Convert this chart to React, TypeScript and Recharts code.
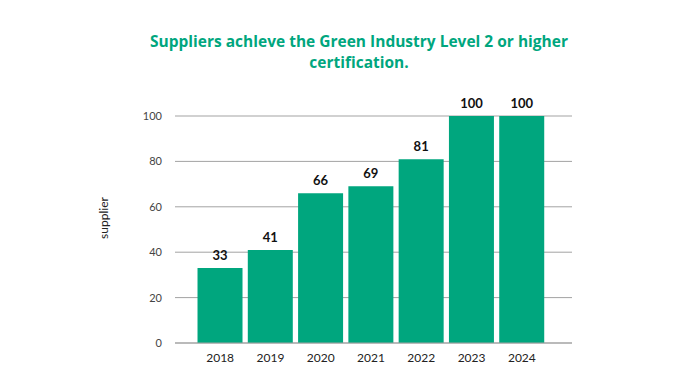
import React from 'react'
import { BarChart, Bar, XAxis, YAxis, CartesianGrid, LabelList } from 'recharts'

const years = ['2018', '2019', '2020', '2021', '2022', '2023', '2024']
const suppliers = [33, 41, 66, 69, 81, 100, 100]
const yTicks = [0, 20, 40, 60, 80, 100]

const green = '#00a67e'
const font = 'Lato, "Noto Sans", sans-serif'

const data = years.map((year, i) => ({ year, value: suppliers[i] }))

export default function App() {
  return (
    <div style={{ position: 'absolute', left: 0, top: 0, width: 698, height: 390, background: '#fff', fontFamily: font }}>
      {/* Title */}
      <div
        style={{
          position: 'absolute', left: 134, width: 450, top: 31,
          textAlign: 'center', color: green, fontWeight: 700, fontSize: 15.5, lineHeight: '21px',
          fontFamily: '"Open Sans", sans-serif',
        }}
      >
        Suppliers achleve the Green Industry Level 2 or higher certification.
      </div>

      {/* Y axis title */}
      <div
        style={{
          position: 'absolute', left: 103, top: 218, fontSize: 12, color: '#222',
          transform: 'translate(-50%, -50%) rotate(-90deg)', whiteSpace: 'nowrap',
        }}
      >
        supplier
      </div>

      <BarChart
        width={698}
        height={390}
        data={data}
        margin={{ top: 116, right: 126, bottom: 17, left: 115 }}
        barCategoryGap="5%"
      >
        <CartesianGrid vertical={false} stroke="#a3a3a3" />
        <XAxis
          dataKey="year"
          padding={{ left: 20, right: 25 }}
          tickLine={false}
          axisLine={{ stroke: '#a3a3a3' }}
          tick={{ fill: '#222', fontSize: 12, fontFamily: font }}
          tickMargin={4}
        />
        <YAxis
          width={60}
          domain={[0, 100]}
          ticks={yTicks}
          tickLine={false}
          axisLine={false}
          tick={{ fill: '#444', fontSize: 11, fontFamily: font }}
          tickMargin={7}
        />
        <Bar dataKey="value" fill={green} isAnimationActive={false}>
          <LabelList
            dataKey="value"
            position="top"
            offset={8}
            style={{ fill: '#111', fontSize: 13, fontWeight: 700, fontFamily: font }}
          />
        </Bar>
      </BarChart>
    </div>
  )
}
